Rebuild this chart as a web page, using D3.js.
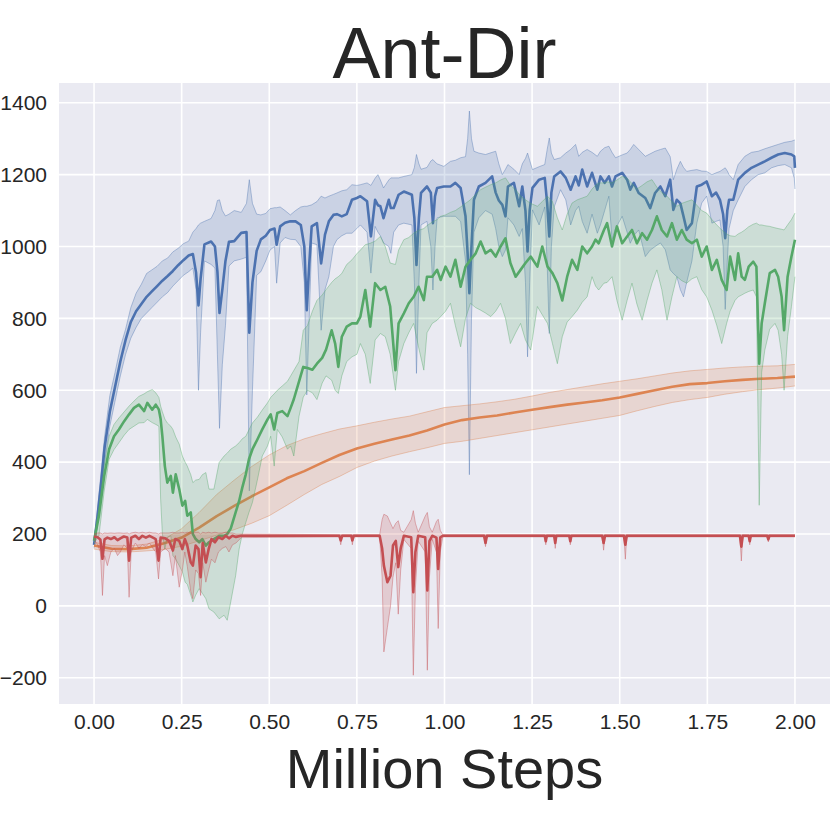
<head>
    <script src="https://d3js.org/d3.v7.min.js"></script>
    <style>
        body { margin: 0; background: white; }
        text { font-family: "Liberation Sans", Arial, sans-serif; fill: #262626; }
    </style>
</head>
<body>
<svg id="plot" width="830" height="830"></svg>
<script>
// each row: [million steps, mean, lower band, upper band]
const blueRows = [
 [0.000,170,160,180],[0.010,250,230,270],[0.020,340,310,370],[0.030,440,400,470],[0.045,540,500,585],
 [0.060,610,570,650],[0.075,680,640,720],[0.090,740,700,770],[0.105,790,745,830],[0.120,820,775,870],
 [0.135,840,800,895],[0.150,860,815,925],[0.165,875,830,935],[0.180,890,845,945],[0.195,905,860,960],
 [0.210,918,872,968],[0.225,932,890,985],[0.240,948,905,995],[0.255,962,920,1008],[0.270,975,930,1015],
 [0.282,979,940,1040],[0.291,928,880,1050],[0.298,836,600,1060],[0.304,910,760,1065],[0.315,1006,960,1070],
 [0.334,1014,950,1078],[0.345,1000,940,1100],[0.352,930,700,1128],[0.358,815,494,1130],[0.366,880,671,1100],
 [0.375,960,780,1085],[0.385,1013,946,1090],[0.400,1015,960,1100],[0.420,1038,965,1095],[0.435,1040,970,1120],
 [0.443,760,320,1186],[0.452,900,600,1120],[0.464,988,920,1090],[0.476,1020,930,1088],[0.490,1030,960,1092],
 [0.502,1046,990,1105],[0.515,1050,1000,1108],[0.521,1005,898,1108],[0.531,1056,1010,1110],[0.545,1066,1025,1100],
 [0.560,1070,1020,1088],[0.575,1070,1019,1100],[0.590,1060,1000,1110],[0.600,1000,900,1112],[0.607,823,587,1112],
 [0.614,950,800,1114],[0.621,1056,1010,1116],[0.636,1065,1005,1125],[0.648,953,767,1140],[0.659,1033,880,1135],
 [0.670,1070,916,1140],[0.683,1088,1000,1145],[0.693,1090,1019,1149],[0.707,1084,1030,1155],[0.721,1090,1037,1158],
 [0.736,1130,1037,1172],[0.750,1135,1050,1170],[0.760,1140,1060,1172],[0.779,1126,1040,1177],[0.790,1028,926,1170],
 [0.802,1130,1056,1190],[0.810,1115,1040,1200],[0.817,1112,1030,1185],[0.826,1079,1010,1163],[0.841,1130,1000,1185],
 [0.847,1107,981,1191],[0.855,1107,1040,1191],[0.869,1144,1060,1191],[0.884,1153,1065,1195],[0.907,1144,1060,1200],
 [0.914,1080,900,1220],[0.920,949,647,1256],[0.927,1080,900,1230],[0.933,1149,1060,1215],[0.950,1167,1070,1220],
 [0.961,1150,1000,1238],[0.967,1065,879,1242],[0.973,1140,1000,1235],[0.979,1163,1080,1230],[0.998,1167,1084,1223],
 [1.017,1167,1084,1237],[1.031,1177,1084,1240],[1.046,1163,1070,1247],[1.060,1084,960,1250],[1.066,980,700,1300],
 [1.071,870,365,1377],[1.077,1000,800,1300],[1.084,1130,1040,1265],[1.098,1167,1080,1260],[1.117,1177,1100,1256],
 [1.136,1195,1090,1262],[1.146,1150,1050,1265],[1.155,1128,1000,1230],[1.165,1116,972,1200],[1.174,1084,990,1215],
 [1.181,1167,1080,1228],[1.198,1177,1060,1215],[1.213,1112,1028,1200],[1.222,1167,1050,1230],[1.231,1100,900,1245],
 [1.237,986,693,1260],[1.243,1100,900,1240],[1.251,1163,1102,1214],[1.270,1186,1060,1222],[1.286,1191,1110,1228],
 [1.293,1120,950,1270],[1.299,1028,758,1302],[1.305,1150,1000,1260],[1.313,1195,1110,1242],[1.331,1209,1158,1247],
 [1.346,1191,1130,1260],[1.360,1158,1060,1270],[1.374,1195,1100,1284],[1.383,1170,1112,1251],[1.393,1214,1070,1262],
 [1.407,1167,1037,1270],[1.421,1205,1090,1262],[1.436,1158,1037,1251],[1.445,1195,1060,1265],[1.457,1177,1100,1275],
 [1.469,1195,1140,1279],[1.478,1167,1019,1262],[1.488,1195,1050,1247],[1.507,1205,1084,1255],[1.521,1186,1040,1260],
 [1.530,1158,1009,1270],[1.540,1177,1030,1284],[1.554,1149,1046,1270],[1.573,1135,972,1251],[1.587,1107,990,1258],
 [1.601,1149,1000,1265],[1.616,1167,1010,1270],[1.630,1140,991,1274],[1.644,1186,935,1250],[1.653,1102,925,1186],
 [1.663,1130,916,1215],[1.673,1120,880,1237],[1.682,1084,860,1220],[1.691,1046,900,1209],[1.706,1065,960,1212],
 [1.720,1167,1065,1214],[1.734,1172,1121,1210],[1.748,1181,1140,1209],[1.763,1140,1065,1200],[1.775,1150,1070,1205],
 [1.786,1130,1074,1209],[1.795,1090,1000,1215],[1.801,1023,825,1219],[1.807,1100,960,1210],[1.812,1130,1050,1200],
 [1.824,1130,1100,1186],[1.838,1186,1130,1228],[1.857,1205,1167,1251],[1.876,1219,1186,1262],[1.895,1228,1200,1265],
 [1.914,1237,1205,1272],[1.933,1247,1219,1278],[1.952,1256,1225,1284],[1.971,1260,1228,1290],[1.990,1256,1219,1293],
 [1.998,1251,1190,1296],[2.000,1219,1160,1296]
];

const orangeRows = [
 [0.00,168,158,177],[0.05,159,151,168],[0.10,158,150,167],[0.15,162,153,172],[0.20,174,157,186],
 [0.25,190,166,215],[0.30,218,181,260],[0.35,250,197,310],[0.40,278,212,350],[0.45,305,230,388],
 [0.50,330,251,420],[0.55,355,280,446],[0.60,375,310,465],[0.65,398,338,479],[0.70,420,360,492],
 [0.75,438,385,501],[0.80,451,403,511],[0.85,463,417,520],[0.90,474,429,528],[0.95,488,440,540],
 [1.00,505,452,552],[1.05,517,458,557],[1.10,524,466,562],[1.15,530,474,568],[1.20,538,482,575],
 [1.25,546,490,584],[1.30,553,498,594],[1.35,560,506,602],[1.40,566,514,610],[1.45,572,522,618],
 [1.50,580,530,625],[1.55,590,543,632],[1.60,600,555,640],[1.65,610,566,648],[1.70,617,574,654],
 [1.75,620,580,658],[1.80,625,589,662],[1.85,629,596,665],[1.90,632,602,667],[1.95,634,606,668],
 [2.00,638,612,672]
];

const greenRows = [
 [0.000,181,175,190],[0.014,251,195,269],[0.029,362,320,390],[0.043,436,408,472],[0.057,472,435,505],
 [0.071,491,454,523],[0.086,514,475,540],[0.100,533,491,556],[0.114,551,500,570],[0.128,560,509,583],
 [0.143,542,510,590],[0.152,565,519,596],[0.166,546,510,602],[0.176,560,505,593],[0.185,546,500,580],
 [0.190,520,297,556],[0.195,472,200,540],[0.202,389,158,520],[0.209,343,190,509],[0.219,362,195,500],
 [0.225,315,140,491],[0.233,366,130,470],[0.243,325,112,450],[0.252,279,95,417],[0.260,292,66,400],
 [0.266,251,60,389],[0.276,260,30,365],[0.282,200,11,343],[0.290,186,30,350],[0.300,177,48,352],
 [0.309,186,35,365],[0.319,168,20,371],[0.328,177,-8,325],[0.342,186,-17,325],[0.357,195,-36,399],
 [0.371,195,-26,417],[0.380,200,-40,425],[0.390,215,11,436],[0.404,260,84,445],[0.414,292,158,454],
 [0.423,329,200,465],[0.433,366,232,472],[0.442,408,260,490],[0.452,436,288,509],[0.466,463,350,525],
 [0.480,491,417,545],[0.495,519,445,565],[0.504,533,472,580],[0.514,491,389,590],[0.523,537,491,600],
 [0.537,542,470,612],[0.552,528,436,625],[0.561,551,445,640],[0.570,575,417,655],[0.585,625,528,680],
 [0.597,665,581,767],[0.609,662,600,780],[0.623,657,593,820],[0.636,674,574,850],[0.651,690,620,865],
 [0.662,713,640,880],[0.678,767,628,900],[0.688,730,600,910],[0.697,665,591,916],[0.707,749,640,925],
 [0.721,777,680,950],[0.736,786,693,963],[0.750,786,700,980],[0.760,805,730,990],[0.774,879,700,1005],
 [0.788,777,619,1009],[0.802,898,740,1015],[0.817,879,758,1028],[0.831,888,749,1000],[0.845,833,700,954],
 [0.860,656,600,950],[0.869,786,680,990],[0.884,814,730,1019],[0.898,842,760,1025],[0.912,860,786,1037],
 [0.926,888,720,1045],[0.941,851,656,1050],[0.950,916,760,1058],[0.965,916,786,1068],[0.979,935,795,1075],
 [0.989,907,805,1084],[1.003,944,820,1088],[1.017,916,842,1095],[1.031,963,780,1100],[1.046,888,721,1110],
 [1.060,944,800,1120],[1.074,963,842,1130],[1.089,981,830,1145],[1.103,1014,823,1158],[1.117,981,815,1165],
 [1.132,991,805,1172],[1.146,972,820,1177],[1.160,1000,842,1185],[1.174,1023,800,1191],[1.188,954,730,1170],
 [1.203,916,760,1158],[1.217,935,786,1140],[1.231,954,740,1130],[1.246,972,712,1120],[1.265,944,833,1112],
 [1.279,1000,810,1125],[1.294,944,786,1140],[1.308,926,730,1125],[1.322,898,674,1080],[1.336,850,749,1046],
 [1.350,916,790,1090],[1.364,963,805,1121],[1.379,935,823,1130],[1.393,1000,845,1135],[1.407,981,860,1140],
 [1.421,1000,916,1160],[1.431,1019,890,1170],[1.440,1009,879,1177],[1.455,1046,898,1177],[1.464,1065,900,1180],
 [1.478,1000,916,1177],[1.492,1056,850,1185],[1.507,1009,795,1195],[1.521,1028,850,1190],[1.535,1046,898,1175],
 [1.549,1009,840,1160],[1.564,1037,795,1170],[1.578,1019,850,1180],[1.592,1046,898,1186],[1.606,1084,935,1165],
 [1.620,1046,880,1150],[1.635,1028,795,1140],[1.649,1065,860,1125],[1.663,1019,916,1112],[1.677,1046,905,1120],
 [1.691,1019,898,1125],[1.706,1009,910,1130],[1.720,1019,916,1115],[1.734,972,880,1100],[1.748,1000,860,1093],
 [1.763,935,823,1075],[1.777,963,780,1060],[1.791,907,730,1046],[1.805,879,786,1035],[1.815,972,820,1030],
 [1.829,907,850,1028],[1.838,981,860,1035],[1.848,916,865,1040],[1.857,907,870,1046],[1.868,944,875,1055],
 [1.881,958,879,1062],[1.890,944,860,1065],[1.898,674,280,1060],[1.905,786,650,1060],[1.914,842,712,1058],
 [1.928,926,770,1056],[1.943,935,786,1052],[1.952,916,767,1050],[1.962,860,700,1048],[1.969,767,600,1046],
 [1.979,916,750,1060],[1.990,972,833,1075],[2.000,1019,916,1093]
];

const redRows = [
 [0.000,193,185,200],[0.010,191,170,203],[0.018,185,150,203],[0.024,131,29,200],[0.030,185,140,203],
 [0.038,190,112,202],[0.048,186,150,203],[0.058,191,160,202],[0.067,183,140,203],[0.075,188,150,203],
 [0.085,193,170,202],[0.095,190,160,203],[0.100,126,24,200],[0.106,190,150,203],[0.118,195,175,205],
 [0.128,186,160,203],[0.138,195,170,205],[0.148,190,165,203],[0.158,195,175,205],[0.168,190,160,203],
 [0.176,186,150,203],[0.184,126,75,200],[0.190,190,150,203],[0.203,188,160,203],[0.214,181,150,203],
 [0.225,154,84,205],[0.232,186,140,203],[0.243,181,52,203],[0.252,158,100,205],[0.259,186,150,203],
 [0.266,168,110,205],[0.276,121,40,203],[0.282,112,20,203],[0.290,168,100,205],[0.298,158,90,205],
 [0.304,80,29,200],[0.310,175,120,205],[0.319,121,66,203],[0.327,158,100,205],[0.335,186,130,203],
 [0.345,177,120,205],[0.355,191,150,203],[0.366,186,160,203],[0.376,195,165,205],[0.385,188,150,203],
 [0.395,195,170,203],[0.405,192,175,200],[0.420,195,190,200],[0.700,195,192,198],[0.704,182,170,198],
 [0.708,195,192,198],[0.734,195,192,198],[0.737,182,170,198],[0.741,195,192,198],[0.815,195,192,198],
 [0.822,160,80,240],[0.827,112,-128,255],[0.837,66,-60,250],[0.846,84,0,230],[0.853,168,80,215],
 [0.861,181,120,230],[0.868,108,-23,237],[0.875,160,100,210],[0.884,195,185,205],[0.905,191,160,240],
 [0.911,38,-193,265],[0.917,150,50,230],[0.925,195,180,205],[0.945,191,150,250],[0.951,43,-179,260],
 [0.957,180,80,220],[0.965,195,185,205],[0.977,190,150,235],[0.982,103,-63,241],[0.988,191,150,210],
 [0.995,195,192,198],[1.113,195,192,198],[1.117,175,165,198],[1.121,195,192,198],[1.286,195,192,198],
 [1.289,180,170,198],[1.292,195,192,198],[1.313,195,192,198],[1.316,175,160,198],[1.319,195,192,198],
 [1.356,195,192,198],[1.359,180,170,198],[1.362,195,192,198],[1.450,195,192,198],[1.454,175,155,198],
 [1.458,195,192,198],[1.512,195,192,198],[1.516,170,130,198],[1.520,195,192,198],[1.843,195,192,198],
 [1.847,165,125,198],[1.851,195,192,198],[1.868,195,192,198],[1.871,180,170,198],[1.874,195,192,198],
 [1.921,195,192,198],[1.924,185,178,198],[1.927,195,192,198],[2.000,195,192,198]
];

const seriesColors = ["#4C72B0", "#DD8452", "#55A868", "#C44E52"];
const xTicks = [0, 0.25, 0.5, 0.75, 1.0, 1.25, 1.5, 1.75, 2.0];
const yTicks = [-200, 0, 200, 400, 600, 800, 1000, 1200, 1400];
const titleText = "Ant-Dir";
const xLabelText = "Million Steps";

//chart setup
const svg = d3.select("svg#plot");
const margin = {top: 83, right: 0, bottom: 126, left: 59};
const width = +svg.attr("width");
const height = +svg.attr("height");

const x = d3.scaleLinear().domain([-0.1, 2.1]).range([margin.left, width - margin.right]);
const y = d3.scaleLinear().domain([-273, 1455]).range([height - margin.bottom, margin.top]);

svg.append("rect")
    .attr("x", margin.left).attr("y", margin.top)
    .attr("width", width - margin.left - margin.right)
    .attr("height", height - margin.top - margin.bottom)
    .attr("fill", "#EAEAF2");

svg.append("clipPath").attr("id", "clip")
    .append("rect")
    .attr("x", margin.left).attr("y", margin.top)
    .attr("width", width - margin.left - margin.right)
    .attr("height", height - margin.top - margin.bottom);

//gridlines
const grid = svg.append("g");
grid.selectAll("line.gx").data(xTicks).enter().append("line")
    .attr("x1", d => x(d)).attr("x2", d => x(d))
    .attr("y1", margin.top).attr("y2", height - margin.bottom)
    .attr("stroke", "white").attr("stroke-width", 1.6);
grid.selectAll("line.gy").data(yTicks).enter().append("line")
    .attr("y1", d => y(d)).attr("y2", d => y(d))
    .attr("x1", margin.left).attr("x2", width - margin.right)
    .attr("stroke", "white").attr("stroke-width", 1.6);

//axes (labels only, seaborn darkgrid has no spines)
const xAxis = svg.append("g")
    .attr("transform", `translate(0,${height - margin.bottom})`)
    .call(d3.axisBottom(x).tickValues(xTicks).tickFormat(d3.format(".2f")).tickSize(0).tickPadding(10));
const yAxis = svg.append("g")
    .attr("transform", `translate(${margin.left},0)`)
    .call(d3.axisLeft(y).tickValues(yTicks).tickFormat(d => d < 0 ? "\u2212" + Math.abs(d) : d).tickSize(0).tickPadding(12));
[xAxis, yAxis].forEach(a => {
    a.select(".domain").remove();
    a.selectAll("text").attr("font-size", 21).attr("fill", "#262626")
        .attr("font-family", "'Liberation Sans', Arial, sans-serif");
});

//series
const plot = svg.append("g").attr("clip-path", "url(#clip)");
const band = d3.area().x(d => x(d[0])).y0(d => y(d[2])).y1(d => y(d[3]));
const mean = d3.line().x(d => x(d[0])).y(d => y(d[1]));
const edgeLo = d3.line().x(d => x(d[0])).y(d => y(d[2]));
const edgeHi = d3.line().x(d => x(d[0])).y(d => y(d[3]));

[blueRows, orangeRows, greenRows, redRows].forEach((rows, i) => {
    const c = seriesColors[i];
    plot.append("path").attr("d", band(rows))
        .attr("fill", c).attr("fill-opacity", 0.2).attr("stroke", "none");
    [edgeLo, edgeHi].forEach(e => {
        plot.append("path").attr("d", e(rows))
            .attr("fill", "none").attr("stroke", c)
            .attr("stroke-opacity", 0.4).attr("stroke-width", 1);
    });
    plot.append("path").attr("d", mean(rows))
        .attr("fill", "none").attr("stroke", c)
        .attr("stroke-width", 2.6).attr("stroke-linejoin", "round");
});

//title and label
svg.append("text")
    .attr("x", (margin.left + width - margin.right) / 2).attr("y", 78)
    .attr("text-anchor", "middle").attr("font-size", 72)
    .text(titleText);
svg.append("text")
    .attr("x", (margin.left + width - margin.right) / 2).attr("y", 788)
    .attr("text-anchor", "middle").attr("font-size", 56)
    .text(xLabelText);
</script>
</body>
